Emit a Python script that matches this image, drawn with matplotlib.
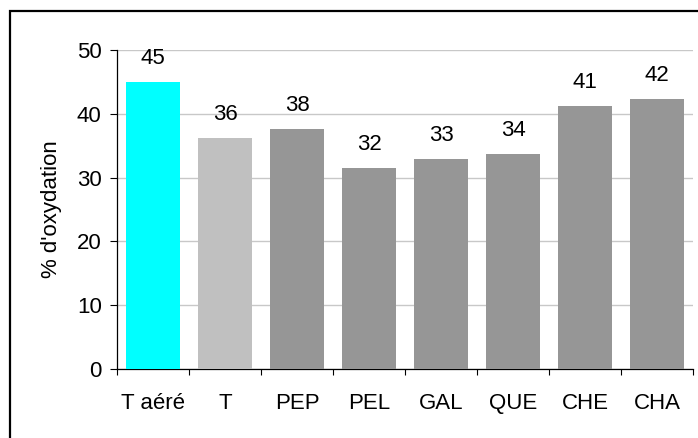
import matplotlib
matplotlib.use("Agg")
import matplotlib.pyplot as plt
from matplotlib.patches import Rectangle

plt.rcParams['font.family'] = ['Liberation Sans', 'DejaVu Sans']

categories = ["T aéré", "T", "PEP", "PEL", "GAL", "QUE", "CHE", "CHA"]
values = [45.0, 36.2, 37.6, 31.5, 32.9, 33.7, 41.2, 42.3]
bar_colors = ["#00FFFF", "#C0C0C0", "#969696", "#969696",
              "#969696", "#969696", "#969696", "#969696"]
y_ticks = [0, 10, 20, 30, 40, 50]
y_label = "% d'oxydation"

FS = 16
W, H = 698, 438
fig = plt.figure(figsize=(W / 100, H / 100), dpi=100)
fig.patch.set_facecolor("white")

# Chart-area frame (runs past the right and bottom edges)
fig.patches.append(Rectangle((10 / W, -0.1), 1.2, (H - 11) / H + 0.1,
                             transform=fig.transFigure, fill=False,
                             edgecolor="black", linewidth=1.6, clip_on=False))

ax = fig.add_axes([117 / W, 69 / H, (693 - 117) / W, (369 - 50) / H])
x = range(len(categories))
ax.bar(x, values, width=0.74, color=bar_colors, zorder=3)

for xi, v in zip(x, values):
    ax.annotate(f"{v:.0f}", (xi, v), xytext=(0, 13), textcoords="offset points",
                ha="center", va="baseline", fontsize=FS, color="black")

ax.set_xlim(-0.5, len(categories) - 0.5)
ax.set_ylim(0, 50)
ax.set_yticks(y_ticks)
ax.set_yticklabels([str(t) for t in y_ticks], fontsize=FS)
ax.set_xticks([i - 0.5 for i in range(len(categories) + 1)], minor=False)
ax.set_xticklabels([])
ax.set_xticks(list(x), minor=True)
ax.set_xticklabels(categories, minor=True, fontsize=FS)
ax.tick_params(axis="x", which="major", direction="out", length=4.5, width=0.8)
ax.tick_params(axis="x", which="minor", length=0, pad=17)
ax.tick_params(axis="y", direction="out", length=5, width=0.8, pad=6)

ax.yaxis.grid(True, color="#C8C8C8", linewidth=1.0, zorder=0)
ax.set_axisbelow(True)
for s in ["top", "right"]:
    ax.spines[s].set_visible(False)
ax.spines["left"].set_linewidth(0.9)
ax.spines["bottom"].set_linewidth(0.9)

ax.set_ylabel(y_label, fontsize=FS, labelpad=11)

fig.savefig("out.png", dpi=100, facecolor="white")
